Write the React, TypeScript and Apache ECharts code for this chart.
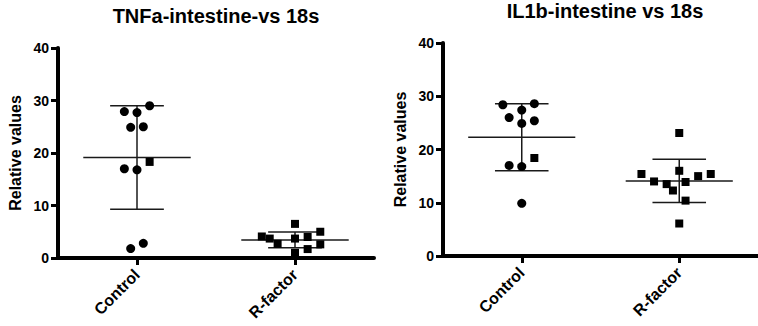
import React, { useEffect, useRef } from "react";
import * as echarts from "echarts";

const categories = ["Control", "R-factor"];
const yTicks = [0, 10, 20, 30, 40];

const titles = ["TNFa-intestine-vs 18s", "IL1b-intestine vs 18s"];
const yAxisName = "Relative values";

// TNFa: Control
const tnfControlValues = [27.9, 27.7, 29.0, 24.9, 25.0, 17.0, 16.8, 18.3, 1.8, 2.8];
const tnfControlOffsets = [-0.08, 0, 0.08, -0.04, 0.04, -0.08, 0, 0.08, -0.04, 0.04];
const tnfControlSymbols = ["circle", "circle", "circle", "circle", "circle", "circle", "circle", "rect", "circle", "circle"];
// TNFa: R-factor
const tnfRValues = [6.5, 4.1, 3.7, 2.7, 3.7, 1.0, 4.0, 1.7, 5.0, 2.6];
const tnfROffsets = [0, -0.21, -0.16, -0.11, 0, 0, 0.08, 0.08, 0.16, 0.16];
const tnfMeans = [19.15, 3.45];
const tnfSDs = [9.85, 1.5];

// IL1b: Control
const ilControlValues = [28.4, 27.4, 28.6, 26.0, 24.9, 25.4, 17.0, 16.8, 18.4, 9.9];
const ilControlOffsets = [-0.12, 0, 0.08, -0.08, 0, 0.08, -0.08, 0, 0.08, 0];
const ilControlSymbols = ["circle", "circle", "circle", "circle", "circle", "circle", "circle", "circle", "rect", "circle"];
// IL1b: R-factor
const ilRValues = [23.1, 15.4, 14.0, 13.5, 12.3, 16.0, 13.9, 10.4, 15.0, 15.4, 6.1];
const ilROffsets = [0, -0.24, -0.16, -0.08, -0.04, 0, 0.04, 0.04, 0.12, 0.2, 0];
const ilMeans = [22.3, 14.1];
const ilSDs = [6.3, 4.05];

const FONT = "'Liberation Sans', Arial, sans-serif";
const INK = "#000";
const BAR = "#1a1a1a";

function pts(group: number, values: number[], offsets: number[], symbols: string[] | null) {
  return values.map((v, i) => {
    const sym = symbols ? symbols[i] : "rect";
    return {
      value: [group + offsets[i], v],
      symbol: sym,
      symbolSize: sym === "rect" ? 8 : 9,
    };
  });
}

function errorSeries(idx: number, means: number[], sds: number[]) {
  return {
    type: "custom",
    xAxisIndex: idx,
    yAxisIndex: idx,
    clip: false,
    z: 3,
    data: means.map((m, i) => [i, m, sds[i]]),
    renderItem: (_p: any, api: any) => {
      const x = api.value(0);
      const m = api.value(1);
      const s = api.value(2);
      const style = { stroke: BAR, lineWidth: 1.5 };
      const seg = (a: number[], b: number[]) => {
        const p1 = api.coord(a);
        const p2 = api.coord(b);
        return { type: "line", shape: { x1: p1[0], y1: p1[1], x2: p2[0], y2: p2[1] }, style };
      };
      return {
        type: "group",
        children: [
          seg([x - 0.34, m], [x + 0.34, m]),
          seg([x - 0.17, m + s], [x + 0.17, m + s]),
          seg([x - 0.17, m - s], [x + 0.17, m - s]),
          seg([x, m - s], [x, m + s]),
        ],
      };
    },
  };
}

function xAxis(idx: number) {
  return {
    type: "value",
    gridIndex: idx,
    min: -0.5,
    max: 1.5,
    splitLine: { show: false },
    axisLine: { show: true, onZero: false, lineStyle: { color: INK, width: 4 } },
    axisTick: { show: true, customValues: [0, 1], length: 7, lineStyle: { color: INK, width: 3 } },
    axisLabel: {
      customValues: [0, 1],
      formatter: (v: number) => categories[Math.round(v)] ?? "",
      rotate: 45,
      margin: 14,
      color: INK,
      fontFamily: FONT,
      fontWeight: "bold",
      fontSize: 16,
    },
  };
}

function yAxis(idx: number) {
  return {
    type: "value",
    gridIndex: idx,
    min: yTicks[0],
    max: yTicks[yTicks.length - 1],
    interval: 10,
    splitLine: { show: false },
    name: yAxisName,
    nameLocation: "middle",
    nameGap: 35,
    nameTextStyle: { color: INK, fontFamily: FONT, fontWeight: "bold", fontSize: 16 },
    axisLine: { show: true, onZero: false, lineStyle: { color: INK, width: 4 } },
    axisTick: { show: true, length: 7, lineStyle: { color: INK, width: 3 } },
    axisLabel: { margin: 9, color: INK, fontFamily: FONT, fontWeight: "bold", fontSize: 14 },
  };
}

export default function App() {
  const ref = useRef<HTMLDivElement>(null);
  useEffect(() => {
    document.body.style.margin = "0";
    const chart = echarts.init(ref.current!, null, { renderer: "svg" });
    chart.setOption({
      animation: false,
      backgroundColor: "#fff",
      grid: [
        { left: 58, top: 48, width: 316, height: 210 },
        { left: 443, top: 43, width: 322, height: 213 },
      ],
      xAxis: [xAxis(0), xAxis(1)],
      yAxis: [yAxis(0), yAxis(1)],
      graphic: [
        {
          type: "text",
          x: 216,
          y: 6,
          style: {
            text: titles[0],
            fontFamily: FONT,
            fontWeight: "bold",
            fontSize: 20,
            fill: INK,
            textAlign: "center",
            textVerticalAlign: "top",
          },
        },
        {
          type: "text",
          x: 605,
          y: 1,
          style: {
            text: titles[1],
            fontFamily: FONT,
            fontWeight: "bold",
            fontSize: 20,
            fill: INK,
            textAlign: "center",
            textVerticalAlign: "top",
          },
        },
      ],
      series: [
        errorSeries(0, tnfMeans, tnfSDs),
        errorSeries(1, ilMeans, ilSDs),
        {
          type: "scatter",
          xAxisIndex: 0,
          yAxisIndex: 0,
          z: 4,
          itemStyle: { color: INK, opacity: 1 },
          data: [
            ...pts(0, tnfControlValues, tnfControlOffsets, tnfControlSymbols),
            ...pts(1, tnfRValues, tnfROffsets, null),
          ],
        },
        {
          type: "scatter",
          xAxisIndex: 1,
          yAxisIndex: 1,
          z: 4,
          itemStyle: { color: INK, opacity: 1 },
          data: [
            ...pts(0, ilControlValues, ilControlOffsets, ilControlSymbols),
            ...pts(1, ilRValues, ilROffsets, null),
          ],
        },
      ],
    });
    return () => chart.dispose();
  }, []);
  return <div ref={ref} style={{ width: 758, height: 326 }} />;
}
